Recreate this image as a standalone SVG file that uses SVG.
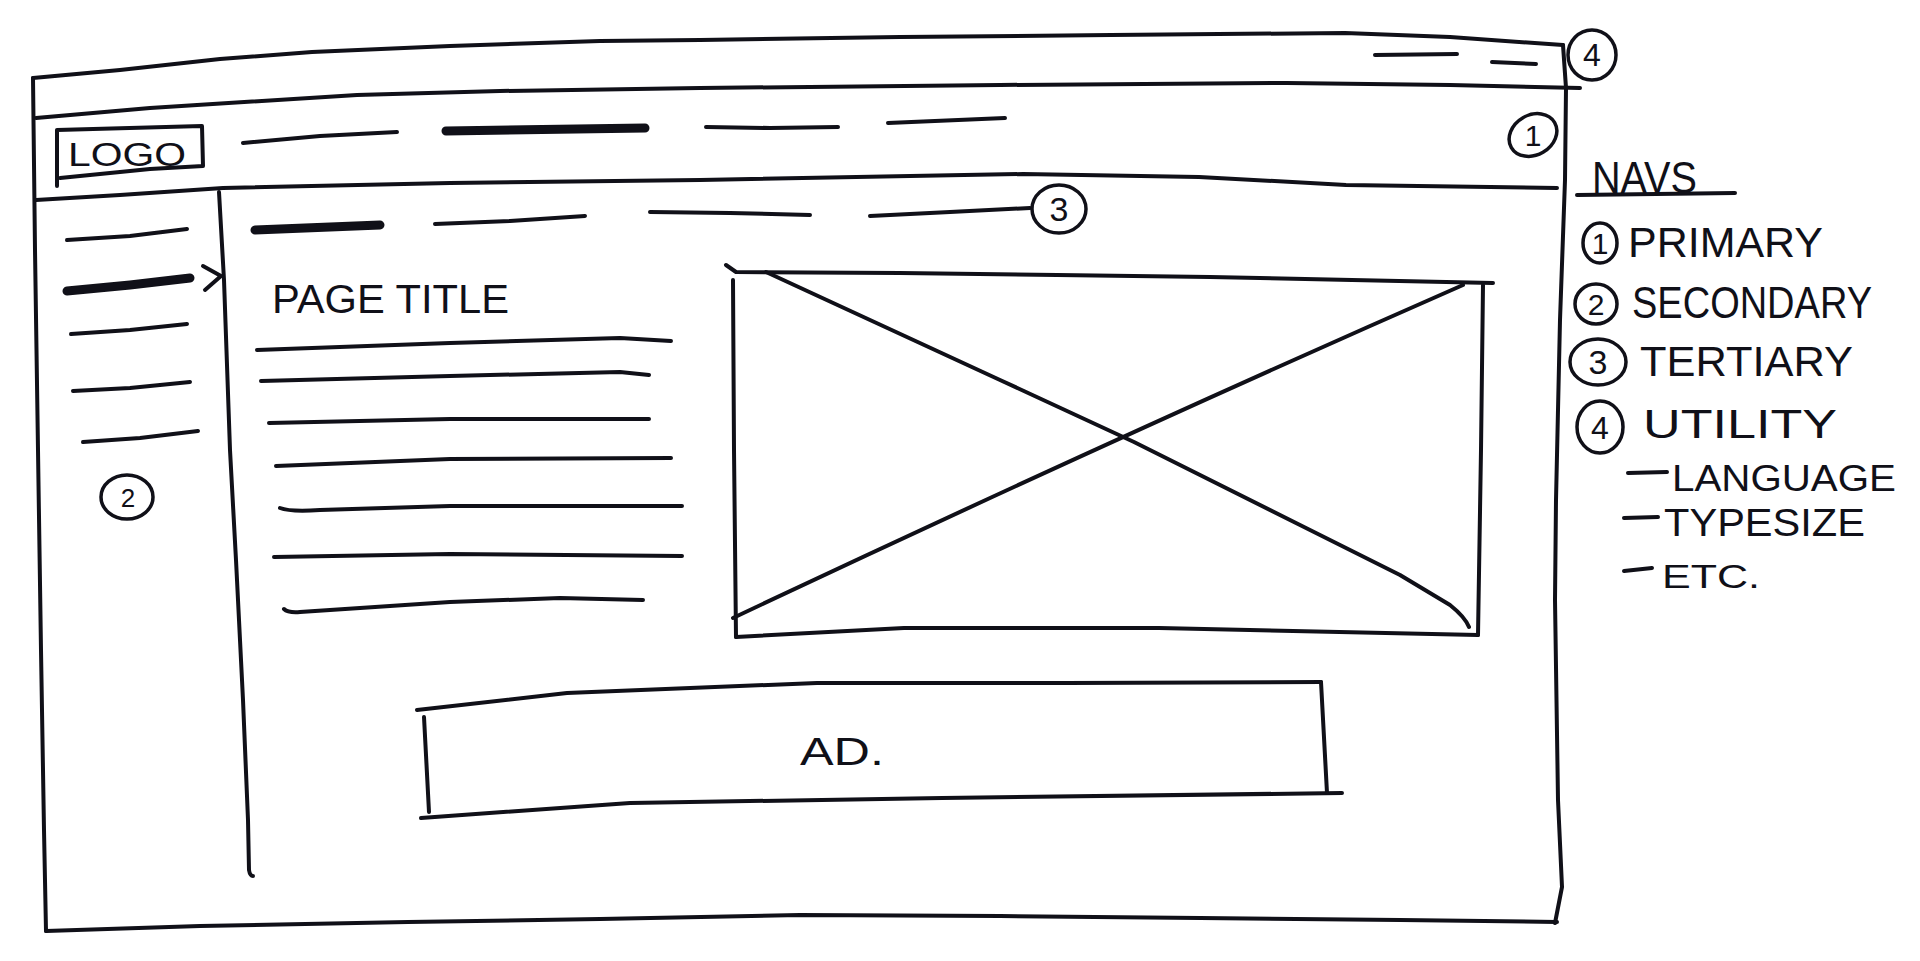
<svg xmlns="http://www.w3.org/2000/svg" width="1920" height="961" viewBox="0 0 1920 961">
<style>
.ln{fill:none;stroke:#101018;stroke-width:4;stroke-linecap:round;stroke-linejoin:round}
.th{fill:none;stroke:#101018;stroke-width:9;stroke-linecap:round}
.ci{fill:none;stroke:#101018;stroke-width:3.5}
.tx{font-family:"Liberation Sans",Arial,sans-serif;fill:#101018}
.num{font-family:"Liberation Sans",Arial,sans-serif;fill:#101018;text-anchor:middle}
</style>
<rect width="1920" height="961" fill="#ffffff"/>
<g id="browser-frame">
<path class="ln" d="M33,78 L120,70 L220,59 L312,52 L450,46 L600,41 L700,40 L900,37 L1111,35 L1345,33 L1450,37 L1563,45"/>
<path class="ln" d="M33,78 L35,250 L38,450 L41,650 L44,830 L46,931"/>
<path class="ln" d="M46,931 L200,926 L408,922 L600,919 L800,915 L1000,916 L1200,918 L1400,920 L1557,922"/>
<path class="ln" d="M1563,45 L1566,88 L1565,180 L1560,320 L1556,500 L1555,600 L1558,800 L1562,887 L1555,923"/>
</g>
<g id="utility-nav">
<path class="ln" d="M36,118 L150,108 L357,95 L500,91 L700,88 L1000,85 L1287,83 L1450,85 L1580,88"/>
<path class="ln" d="M1375,55 L1457,54"/>
<path class="ln" d="M1492,62 L1536,64"/>
<ellipse class="ci" cx="1592" cy="55" rx="24" ry="25"/>
<text class="num" x="1592" y="66" font-size="32">4</text>
</g>
<g id="primary-nav">
<g id="logo">
<path class="ln" d="M57,186 L57,130 L202,126 L203,166 L150,169 L60,178"/>
<text class="tx" x="68" y="166" font-size="34" textLength="118" lengthAdjust="spacingAndGlyphs">LOGO</text>
</g>
<path class="ln" d="M243,143 L320,136 L397,132"/>
<path class="th" d="M446,131 L645,128"/>
<path class="ln" d="M706,127 L770,128 L838,127"/>
<path class="ln" d="M888,123 L1005,118"/>
<path class="ln" d="M36,200 L120,195 L223,188 L450,183 L700,180 L1023,174 L1199,177 L1346,185 L1557,188"/>
<ellipse class="ci" cx="1533" cy="135" rx="25" ry="20" transform="rotate(-30 1533 135)"/>
<text class="num" x="1533" y="146" font-size="30">1</text>
</g>
<g id="secondary-nav">
<path class="ln" d="M219,192 L224,280 L230,450 L236,560 L243,700 L248,820 L249,870 Q250,876 253,876"/>
<path class="ln" d="M67,240 L130,236 L187,229"/>
<path class="th" d="M67,291 L130,285 L190,278"/>
<path class="ln" d="M71,334 L130,330 L187,324"/>
<path class="ln" d="M73,391 L130,388 L190,382"/>
<path class="ln" d="M83,442 L140,438 L198,431"/>
<ellipse class="ci" cx="127" cy="497" rx="26" ry="22"/>
<text class="num" x="128" y="507" font-size="26">2</text>
</g>
<g id="tertiary-nav">
<path class="th" d="M255,230 L380,225"/>
<path class="ln" d="M435,224 L510,221 L585,216"/>
<path class="ln" d="M650,212 L730,213 L810,215"/>
<path class="ln" d="M870,216 L950,212 L1030,208"/>
<ellipse class="ci" cx="1059" cy="209" rx="27" ry="24"/>
<text class="num" x="1059" y="221" font-size="34">3</text>
</g>
<g id="page-content">
<text class="tx" x="272" y="313" font-size="40" textLength="237" lengthAdjust="spacingAndGlyphs">PAGE TITLE</text>
<path class="ln" d="M257,350 L450,343 L620,338 L671,341"/>
<path class="ln" d="M261,381 L450,376 L620,372 L649,375"/>
<path class="ln" d="M269,423 L450,419 L649,419"/>
<path class="ln" d="M276,466 L450,459 L671,458"/>
<path class="ln" d="M280,508 Q290,512 320,510 L450,506 L682,506"/>
<path class="ln" d="M274,557 L450,554 L682,556"/>
<path class="ln" d="M284,609 Q288,613 300,612 L450,602 L560,598 L643,600"/>
</g>
<g id="image-placeholder">
<path class="ln" d="M726,265 L736,272 L900,273 L1057,275 L1210,277 L1493,283"/>
<path class="ln" d="M733,280 L734,450 L736,637"/>
<path class="ln" d="M736,637 L904,628 L1159,628 L1478,635"/>
<path class="ln" d="M1483,285 L1481,450 L1478,635"/>
<path class="ln" d="M766,272 L1000,380 L1134,442 L1300,525 L1400,575 L1450,605 Q1465,617 1469,627"/>
<path class="ln" d="M1463,285 Q1110,440 733,618"/>
</g>
<g id="ad">
<path class="ln" d="M417,710 L567,693 L817,683 L1067,683 L1321,682"/>
<path class="ln" d="M424,717 L429,812"/>
<path class="ln" d="M421,818 L630,803 L942,798 L1342,793"/>
<path class="ln" d="M1321,682 L1327,793"/>
<text class="tx" x="800" y="765" font-size="38" textLength="84" lengthAdjust="spacingAndGlyphs">AD.</text>
</g>
<g id="legend">
<text class="tx" x="1592" y="193" font-size="44" textLength="105" lengthAdjust="spacingAndGlyphs">NAVS</text>
<path class="ln" d="M1577,195 L1735,193"/>
<ellipse class="ci" cx="1600" cy="243" rx="17" ry="20"/>
<text class="num" x="1600" y="254" font-size="30">1</text>
<text class="tx" x="1628" y="257" font-size="42" textLength="195" lengthAdjust="spacingAndGlyphs">PRIMARY</text>
<ellipse class="ci" cx="1596" cy="304" rx="21" ry="20"/>
<text class="num" x="1596" y="315" font-size="30">2</text>
<text class="tx" x="1632" y="318" font-size="44" textLength="240" lengthAdjust="spacingAndGlyphs">SECONDARY</text>
<ellipse class="ci" cx="1598" cy="362" rx="28" ry="23"/>
<text class="num" x="1598" y="374" font-size="34">3</text>
<text class="tx" x="1640" y="376" font-size="42" textLength="213" lengthAdjust="spacingAndGlyphs">TERTIARY</text>
<ellipse class="ci" cx="1600" cy="427" rx="23" ry="26"/>
<text class="num" x="1600" y="439" font-size="32">4</text>
<text class="tx" x="1643" y="438" font-size="40" textLength="194" lengthAdjust="spacingAndGlyphs">UTILITY</text>
<path class="ln" d="M1628,473 L1667,472"/>
<text class="tx" x="1672" y="491" font-size="36" textLength="224" lengthAdjust="spacingAndGlyphs">LANGUAGE</text>
<path class="ln" d="M1624,518 L1658,517"/>
<text class="tx" x="1664" y="536" font-size="38" textLength="201" lengthAdjust="spacingAndGlyphs">TYPESIZE</text>
<path class="ln" d="M1624,571 L1652,568"/>
<text class="tx" x="1662" y="588" font-size="34" textLength="98" lengthAdjust="spacingAndGlyphs">ETC.</text>
</g>
<g id="connectors">
<path class="ln" d="M203,266 L221,276 L205,290" stroke-width="6"/>
</g>
</svg>
